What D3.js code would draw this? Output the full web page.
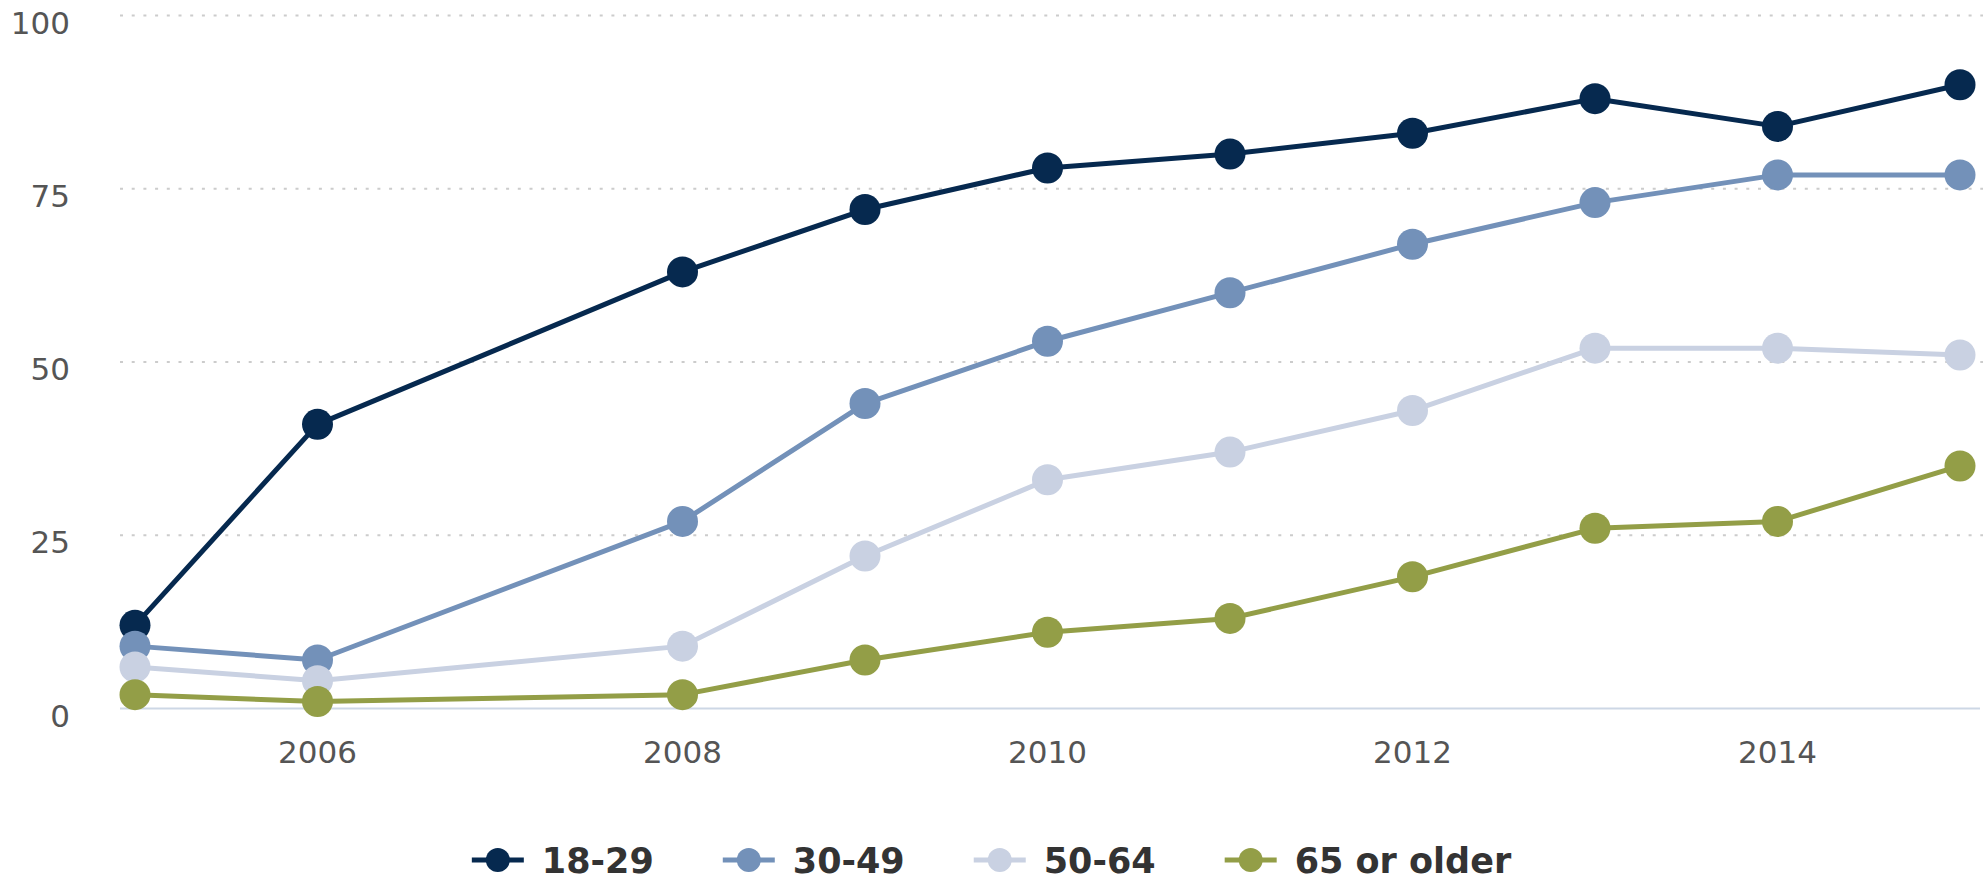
<!DOCTYPE html>
<html>
<head>
<meta charset="utf-8">
<script src="https://cdn.jsdelivr.net/npm/d3@7"></script>
<style>
	body { margin: 0; background: #fff; }
	svg { display: block; }
</style>
</head>
<body>
<div id="chart"></div>
<script>
const years = [2005, 2006, 2008, 2009, 2010, 2011, 2012, 2013, 2014, 2015]
const age18to29 = [12, 41, 63, 72, 78, 80, 83, 88, 84, 90]
const age30to49 = [9, 7, 27, 44, 53, 60, 67, 73, 77, 77]
const age50to64 = [6, 4, 9, 22, 33, 37, 43, 52, 52, 51]
const age65plus = [2, 1, 2, 7, 11, 13, 19, 26, 27, 35]
const seriesNames = ['18-29', '30-49', '50-64', '65 or older']
const yTicks = [0, 25, 50, 75, 100]
const xTicks = [2006, 2008, 2010, 2012, 2014]

const colors = ['#06294f', '#7391b9', '#c9d1e2', '#939e47']

const fullWidth = 1983
const fullHeight = 882

const series = [age18to29, age30to49, age50to64, age65plus].map((vals, i) => ({
	name: seriesNames[i],
	color: colors[i],
	values: vals.map((v, j) => ({year: years[j], value: v})),
}))

const x = d3.scaleLinear().domain([2005, 2015]).range([135, 1960])
const y = d3.scaleLinear().domain([0, 100]).range([708.5, 15.5])

const svg = d3
	.select('#chart')
	.append('svg')
	.attr('width', fullWidth)
	.attr('height', fullHeight)

// gridlines
svg
	.append('g')
	.selectAll('line')
	.data(yTicks.filter((d) => d > 0))
	.enter()
	.append('line')
	.attr('x1', 120)
	.attr('x2', fullWidth)
	.attr('y1', (d) => y(d))
	.attr('y2', (d) => y(d))
	.attr('stroke', '#cccccc')
	.attr('stroke-width', 2)
	.attr('stroke-dasharray', '3,8.7')

svg
	.append('line')
	.attr('x1', 120)
	.attr('x2', 1980)
	.attr('y1', y(0))
	.attr('y2', y(0))
	.attr('stroke', '#cdd7e5')
	.attr('stroke-width', 2)

// y labels
svg
	.append('g')
	.selectAll('text')
	.data(yTicks)
	.enter()
	.append('text')
	.attr('x', 70)
	.attr('y', (d) => y(d) + 18)
	.attr('text-anchor', 'end')
	.attr('font-family', 'DejaVu Sans, sans-serif')
	.attr('font-size', 31)
	.attr('fill', '#555')
	.text((d) => d)

// x labels
svg
	.append('g')
	.selectAll('text')
	.data(xTicks)
	.enter()
	.append('text')
	.attr('x', (d) => x(d))
	.attr('y', 763)
	.attr('text-anchor', 'middle')
	.attr('font-family', 'DejaVu Sans, sans-serif')
	.attr('font-size', 31)
	.attr('fill', '#555')
	.text((d) => d)

const line = d3
	.line()
	.x((d) => x(d.year))
	.y((d) => y(d.value))

const sg = svg.selectAll('.series').data(series).enter().append('g').attr('class', 'series')

sg.append('path')
	.attr('d', (d) => line(d.values))
	.attr('fill', 'none')
	.attr('stroke', (d) => d.color)
	.attr('stroke-width', 5)
	.attr('stroke-linejoin', 'round')

sg.selectAll('circle')
	.data((d) => d.values.map((v) => ({...v, color: d.color})))
	.enter()
	.append('circle')
	.attr('cx', (d) => x(d.year))
	.attr('cy', (d) => y(d.value))
	.attr('r', 15.5)
	.attr('fill', (d) => d.color)

// legend
const legend = svg.append('g')
const items = legend
	.selectAll('g')
	.data(series)
	.enter()
	.append('g')

items
	.append('line')
	.attr('x1', 0)
	.attr('x2', 52)
	.attr('y1', 0)
	.attr('y2', 0)
	.attr('stroke', (d) => d.color)
	.attr('stroke-width', 5)
items
	.append('circle')
	.attr('cx', 26)
	.attr('cy', 0)
	.attr('r', 12)
	.attr('fill', (d) => d.color)
items
	.append('text')
	.attr('x', 70)
	.attr('y', 13)
	.attr('font-family', 'DejaVu Sans, sans-serif')
	.attr('font-weight', 'bold')
	.attr('font-size', 35)
	.attr('fill', '#333')
	.text((d) => d.name)

let offset = 0
items.each(function () {
	const w = d3.select(this).select('text').node().getComputedTextLength() + 70
	d3.select(this).attr('transform', `translate(${offset}, 0)`)
	offset += w + 69
})
const total = offset - 69
legend.attr('transform', `translate(${(fullWidth - total) / 2}, 860)`)
</script>
</body>
</html>
